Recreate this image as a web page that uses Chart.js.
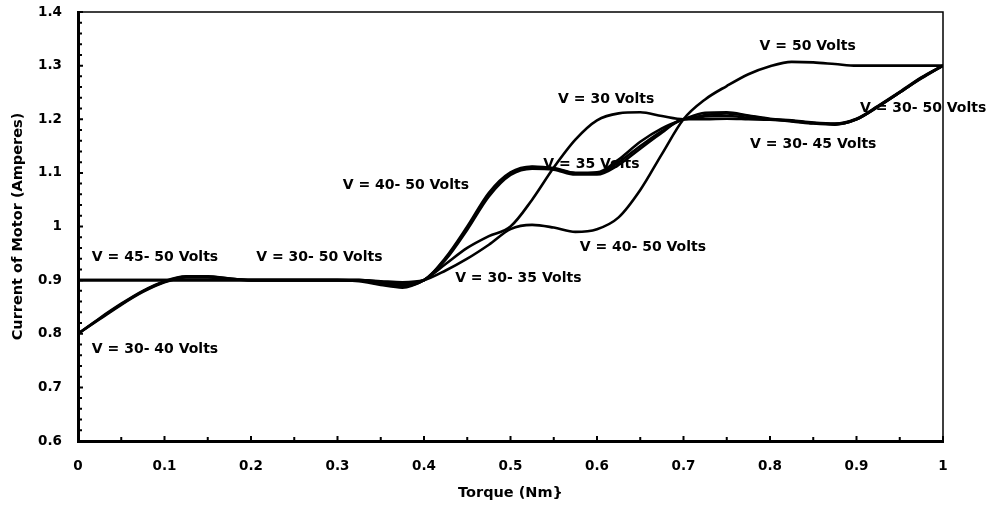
<!DOCTYPE html>
<html>
<head>
<meta charset="utf-8">
<script src="https://cdn.jsdelivr.net/npm/chart.js@4.4.1/dist/chart.umd.min.js"></script>
<style>
  html, body { margin: 0; padding: 0; background: #fff; }
  #wrap { width: 990px; height: 505px; }
</style>
</head>
<body>
<div id="wrap"><canvas id="grafico" width="990" height="505"></canvas></div>
<script>
// Torque (Nm) sample points shared by every curve
const torque = [0, 0.025, 0.05, 0.075, 0.1, 0.125, 0.15, 0.175, 0.2, 0.225,
  0.25, 0.275, 0.3, 0.325, 0.35, 0.375, 0.4, 0.425, 0.45, 0.475,
  0.5, 0.525, 0.55, 0.575, 0.6, 0.625, 0.65, 0.675, 0.7, 0.725,
  0.75, 0.775, 0.8, 0.825, 0.85, 0.875, 0.9, 0.925, 0.95, 0.975, 1];

// current of motor (A)
const v30 = [0.800, 0.828, 0.855, 0.879, 0.897, 0.906, 0.906, 0.903, 0.900, 0.900,
  0.900, 0.900, 0.900, 0.898, 0.891, 0.886, 0.900, 0.930, 0.960, 0.982,
  1.000, 1.050, 1.110, 1.162, 1.198, 1.211, 1.213, 1.206, 1.200, 1.208,
  1.211, 1.206, 1.200, 1.197, 1.193, 1.191, 1.200, 1.224, 1.250, 1.277, 1.300];
const v35 = [0.800, 0.829, 0.856, 0.880, 0.898, 0.907, 0.907, 0.903, 0.900, 0.900,
  0.900, 0.900, 0.900, 0.899, 0.893, 0.889, 0.900, 0.940, 0.997, 1.060,
  1.099, 1.111, 1.108, 1.099, 1.099, 1.120, 1.150, 1.178, 1.200, 1.205,
  1.206, 1.203, 1.200, 1.197, 1.193, 1.191, 1.200, 1.224, 1.250, 1.277, 1.300];
const v40 = [0.800, 0.827, 0.854, 0.878, 0.896, 0.905, 0.905, 0.902, 0.900, 0.900,
  0.900, 0.900, 0.900, 0.900, 0.895, 0.892, 0.900, 0.938, 0.994, 1.056,
  1.096, 1.108, 1.106, 1.097, 1.097, 1.115, 1.145, 1.175, 1.200, 1.200,
  1.201, 1.200, 1.199, 1.196, 1.192, 1.190, 1.200, 1.223, 1.250, 1.276, 1.300];
const v45 = [0.900, 0.900, 0.900, 0.900, 0.900, 0.900, 0.900, 0.900, 0.900, 0.900,
  0.900, 0.900, 0.900, 0.900, 0.897, 0.894, 0.900, 0.942, 1.000, 1.063,
  1.101, 1.112, 1.109, 1.100, 1.101, 1.125, 1.158, 1.183, 1.200, 1.212,
  1.213, 1.207, 1.201, 1.198, 1.194, 1.192, 1.201, 1.225, 1.251, 1.278, 1.300];
const v50 = [0.900, 0.900, 0.900, 0.900, 0.900, 0.900, 0.900, 0.900, 0.900, 0.900,
  0.900, 0.900, 0.900, 0.900, 0.898, 0.896, 0.900, 0.918, 0.940, 0.966,
  0.995, 1.003, 0.998, 0.990, 0.995, 1.017, 1.068, 1.135, 1.200, 1.237,
  1.262, 1.284, 1.299, 1.307, 1.306, 1.303, 1.300, 1.300, 1.300, 1.300, 1.300];

const xTicks = [0, 0.1, 0.2, 0.3, 0.4, 0.5, 0.6, 0.7, 0.8, 0.9, 1];
const yTicks = [0.6, 0.7, 0.8, 0.9, 1, 1.1, 1.2, 1.3, 1.4];

// curve labels: text, torque, current
const etiquetas = [
  ['V = 45- 50 Volts', 0.016, 0.943],
  ['V = 30- 40 Volts', 0.016, 0.771],
  ['V = 30- 50 Volts', 0.206, 0.943],
  ['V = 40- 50 Volts', 0.306, 1.077],
  ['V = 30- 35 Volts', 0.436, 0.904],
  ['V = 35 Volts', 0.538, 1.115],
  ['V = 40- 50 Volts', 0.580, 0.962],
  ['V = 30 Volts', 0.555, 1.238],
  ['V = 50 Volts', 0.788, 1.335],
  ['V = 30- 45 Volts', 0.777, 1.154],
  ['V = 30- 50 Volts', 0.904, 1.221]
];

const fuente = { family: 'DejaVu Sans', weight: 'bold', size: 13.5 };
const fuenteTitulo = { family: 'DejaVu Sans', weight: 'bold', size: 14.5 };

function serie(nombre, valores) {
  return {
    label: nombre,
    data: valores.map((v, i) => ({ x: torque[i], y: v })),
    borderColor: '#000',
    borderWidth: 2.6,
    pointRadius: 0,
    fill: false,
    cubicInterpolationMode: 'monotone'
  };
}

const marcos = {
  id: 'marcos',
  afterDraw(chart) {
    const { ctx, chartArea: a, scales: { x, y } } = chart;
    ctx.save();
    ctx.strokeStyle = '#000';
    ctx.lineWidth = 1.5;
    ctx.beginPath();
    ctx.moveTo(a.left, a.top);
    ctx.lineTo(a.right, a.top);
    ctx.lineTo(a.right, a.bottom);
    ctx.stroke();

    // inward tick marks
    ctx.lineWidth = 2;
    ctx.beginPath();
    for (let i = 0; i <= 40; i++) {
      const py = y.getPixelForValue(0.6 + i * 0.02);
      ctx.moveTo(a.left, py);
      ctx.lineTo(a.left + (i % 5 === 0 ? 5 : 4), py);
    }
    for (let i = 0; i <= 20; i++) {
      const px = x.getPixelForValue(i * 0.05);
      ctx.moveTo(px, a.bottom);
      ctx.lineTo(px, a.bottom - (i % 2 === 0 ? 5 : 4));
    }
    ctx.stroke();

    ctx.fillStyle = '#000';
    ctx.font = 'bold 14px "DejaVu Sans"';
    ctx.textAlign = 'left';
    ctx.textBaseline = 'middle';
    etiquetas.forEach(([t, tx, ty]) => {
      ctx.fillText(t, x.getPixelForValue(tx), y.getPixelForValue(ty));
    });
    ctx.restore();
  }
};

const etiqueta = v => String(+Number(v).toFixed(2));

new Chart(document.getElementById('grafico'), {
  type: 'line',
  data: {
    datasets: [
      serie('V = 30 Volts', v30),
      serie('V = 35 Volts', v35),
      serie('V = 40 Volts', v40),
      serie('V = 45 Volts', v45),
      serie('V = 50 Volts', v50)
    ]
  },
  options: {
    responsive: false,
    animation: false,
    devicePixelRatio: 1,
    layout: { padding: { top: 12, right: 47, bottom: 0, left: 0 } },
    plugins: { legend: { display: false }, tooltip: { enabled: false } },
    scales: {
      x: {
        type: 'linear',
        min: 0,
        max: 1,
        afterBuildTicks: s => { s.ticks = xTicks.map(v => ({ value: v })); },
        afterFit: s => { s.height = 64; s.paddingLeft = 0; s.paddingRight = 0; },
        grid: { display: false },
        border: { display: true, color: '#000', width: 3 },
        ticks: { color: '#000', font: fuente, padding: 9, maxRotation: 0, autoSkip: false, callback: etiqueta },
        title: { display: true, text: 'Torque (Nm}', color: '#000', font: fuenteTitulo, padding: { top: 0, bottom: 3 } }
      },
      y: {
        min: 0.6,
        max: 1.4,
        afterBuildTicks: s => { s.ticks = yTicks.map(v => ({ value: v })); },
        afterFit: s => { s.width = 78; s.paddingTop = 0; s.paddingBottom = 0; },
        grid: { display: false },
        border: { display: true, color: '#000', width: 3 },
        ticks: { color: '#000', font: fuente, padding: 8, autoSkip: false, callback: etiqueta },
        title: { display: true, text: 'Current of Motor (Amperes)', color: '#000', font: fuenteTitulo, padding: { top: 10, bottom: 0 } }
      }
    }
  },
  plugins: [marcos]
});
</script>
</body>
</html>
